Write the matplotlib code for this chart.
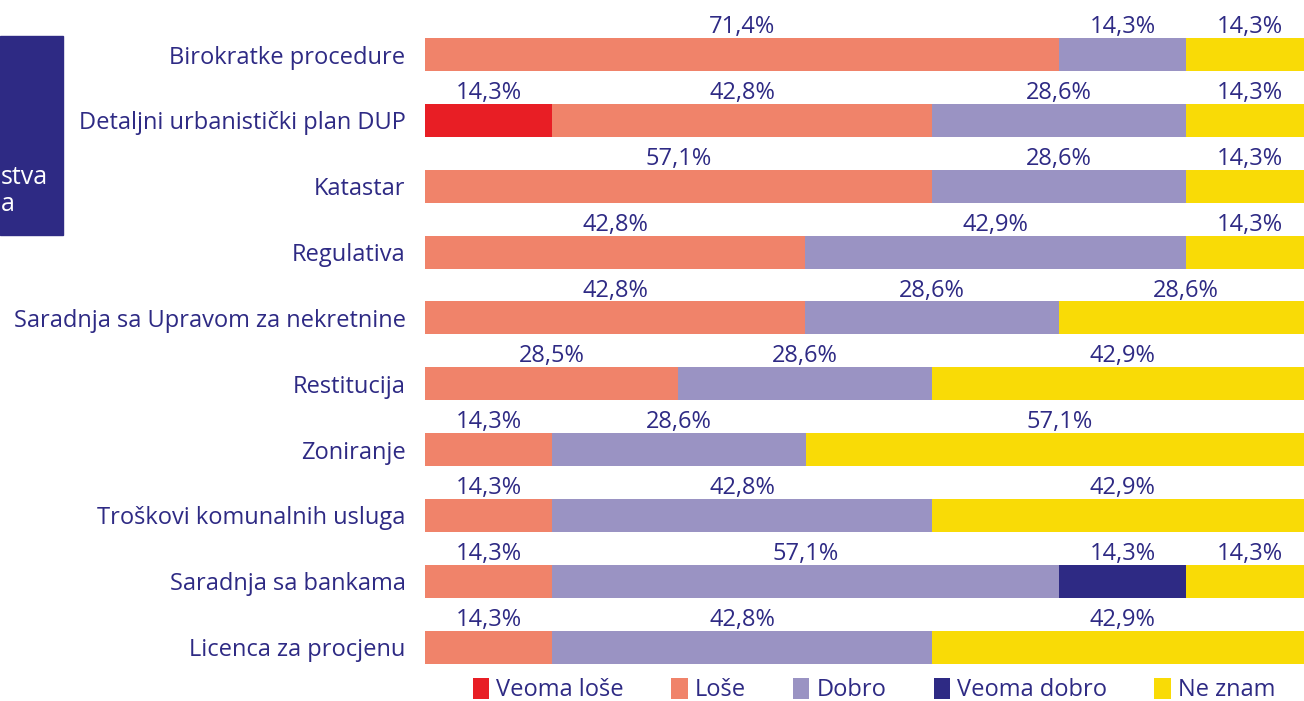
import matplotlib.pyplot as plt
import numpy as np
from matplotlib.patches import Rectangle

plt.rcParams['font.family'] = ['Open Sans', 'DejaVu Sans']

kategorije = ['Birokratke procedure', 'Detaljni urbanistički plan DUP', 'Katastar',
              'Regulativa', 'Saradnja sa Upravom za nekretnine', 'Restitucija',
              'Zoniranje', 'Troškovi komunalnih usluga', 'Saradnja sa bankama',
              'Licenca za procjenu']
serije = ['Veoma loše', 'Loše', 'Dobro', 'Veoma dobro', 'Ne znam']
boje = ['#E81E25', '#F0836A', '#9A93C3', '#2E2A84', '#F9DB06']

veoma_lose = [0, 14.3, 0, 0, 0, 0, 0, 0, 0, 0]
lose = [71.4, 42.8, 57.1, 42.8, 42.8, 28.5, 14.3, 14.3, 14.3, 14.3]
dobro = [14.3, 28.6, 28.6, 42.9, 28.6, 28.6, 28.6, 42.8, 57.1, 42.8]
veoma_dobro = [0, 0, 0, 0, 0, 0, 0, 0, 14.3, 0]
ne_znam = [14.3, 14.3, 14.3, 14.3, 28.6, 42.9, 57.1, 42.9, 14.3, 42.9]

tekst = '#2E2A84'
fs = 17
W, H = 1304, 701

fig = plt.figure(figsize=(W / 100, H / 100), dpi=100)
ax = fig.add_axes([425 / W, 1 - 680 / H, 879 / W, 658.3 / H])

y = np.arange(len(kategorije))
levo = np.zeros(len(kategorije))
for naziv, vrijednosti, boja in zip(serije, [veoma_lose, lose, dobro, veoma_dobro, ne_znam], boje):
    v = np.array(vrijednosti)
    ax.barh(y, v, left=levo, height=0.5, color=boja, label=naziv)
    for i in range(len(y)):
        if v[i] > 0:
            ax.annotate(f'{v[i]:.1f}%'.replace('.', ','), (levo[i] + v[i] / 2, y[i] - 0.25),
                        xytext=(0, 3.5), textcoords='offset points',
                        ha='center', va='baseline', color=tekst, fontsize=fs)
    levo += v

ax.set_xlim(0, 879 / 888 * 100)
ax.set_ylim(len(kategorije) - 0.5, -0.5)
ax.set_yticks(y)
ax.set_yticklabels(kategorije, color=tekst, fontsize=fs)
ax.tick_params(axis='y', length=0, pad=14)
ax.set_xticks([])
for s in ax.spines.values():
    s.set_visible(False)

# odsječeni tamni okvir lijevo
fig.patches.append(Rectangle((0, 1 - 235 / H), 63 / W, 199 / H, transform=fig.transFigure,
                             color='#2E2A84', zorder=0))
fig.text(48 / W, 1 - 177 / H, 'stva', color='white', fontsize=18, ha='right', va='center')
fig.text(1 / W, 1 - 204 / H, 'a', color='white', fontsize=18, ha='left', va='center')

fig.legend(loc='center', bbox_to_anchor=(874 / W, 1 - 690 / H), ncol=5, frameon=False,
           fontsize=fs, handlelength=0.7, handleheight=1.0, handletextpad=0.3,
           columnspacing=2.0, labelcolor=tekst, borderpad=0.2)

plt.savefig('out.png', dpi=100)
